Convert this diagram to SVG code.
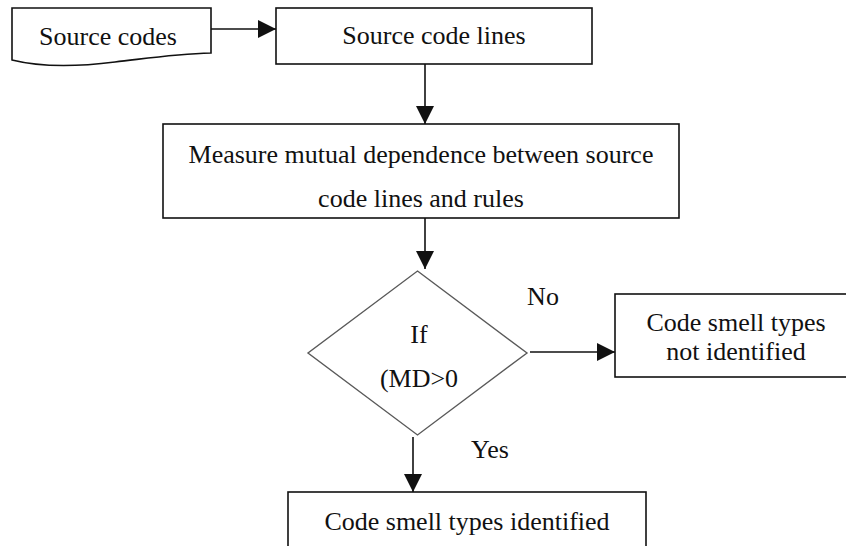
<svg xmlns="http://www.w3.org/2000/svg" width="846" height="546" viewBox="0 0 846 546">
  <style>
    .box { fill: #ffffff; stroke: #111111; stroke-width: 1.6; }
    .decision { fill: #ffffff; stroke: #5a5a5a; stroke-width: 1.4; }
    .label { font-family: "Liberation Serif", "Times New Roman", serif; font-size: 26px; fill: #111111; text-anchor: middle; }
    .edge { stroke: #111111; stroke-width: 1.6; fill: none; }
  </style>
  <defs>
    <marker id="arrowhead" markerUnits="userSpaceOnUse" markerWidth="18" markerHeight="18" viewBox="0 0 18 18" refX="18" refY="9" orient="auto">
      <path d="M0,0 L18,9 L0,18 Z" fill="#111111"/>
    </marker>
  </defs>
  <rect width="846" height="546" fill="#ffffff"/>

  <!-- connectors and branch labels -->
  <g id="connectors">
    <line class="edge" x1="211" y1="29" x2="276" y2="29" marker-end="url(#arrowhead)"/>
    <line class="edge" x1="425" y1="64" x2="425" y2="124" marker-end="url(#arrowhead)"/>
    <line class="edge" x1="425" y1="218" x2="425" y2="269" marker-end="url(#arrowhead)"/>
    <line class="edge" x1="530" y1="352" x2="615" y2="352" marker-end="url(#arrowhead)"/>
    <line class="edge" x1="413" y1="437" x2="413" y2="492" marker-end="url(#arrowhead)"/>
    <text class="label" x="543" y="305">No</text>
    <text class="label" x="490" y="458">Yes</text>
  </g>

  <!-- document shape: source codes -->
  <g id="source-codes">
    <path class="box" d="M12,8 H211 V53 C175,54 150,58 115,62 C75,67 40,67 12,60 Z"/>
    <text class="label" x="108" y="45">Source codes</text>
  </g>

  <g id="source-code-lines">
    <rect class="box" x="276" y="8" width="316" height="56"/>
    <text class="label" x="434" y="44">Source code lines</text>
  </g>

  <g id="measure-dependence">
    <rect class="box" x="163" y="124" width="516" height="94"/>
    <text class="label" x="421" y="163">Measure mutual dependence between source</text>
    <text class="label" x="421" y="207">code lines and rules</text>
  </g>

  <g id="md-decision">
    <polygon class="decision" points="417.5,271 527,353 417.5,435 308,353"/>
    <text class="label" x="419" y="343">If</text>
    <text class="label" x="419" y="387">(MD&gt;0</text>
  </g>

  <g id="not-identified">
    <rect class="box" x="615" y="294" width="242" height="83"/>
    <text class="label" x="736" y="331">Code smell types</text>
    <text class="label" x="736" y="360">not identified</text>
  </g>

  <g id="identified">
    <rect class="box" x="288" y="492" width="358" height="70"/>
    <text class="label" x="467" y="530">Code smell types identified</text>
  </g>
</svg>
